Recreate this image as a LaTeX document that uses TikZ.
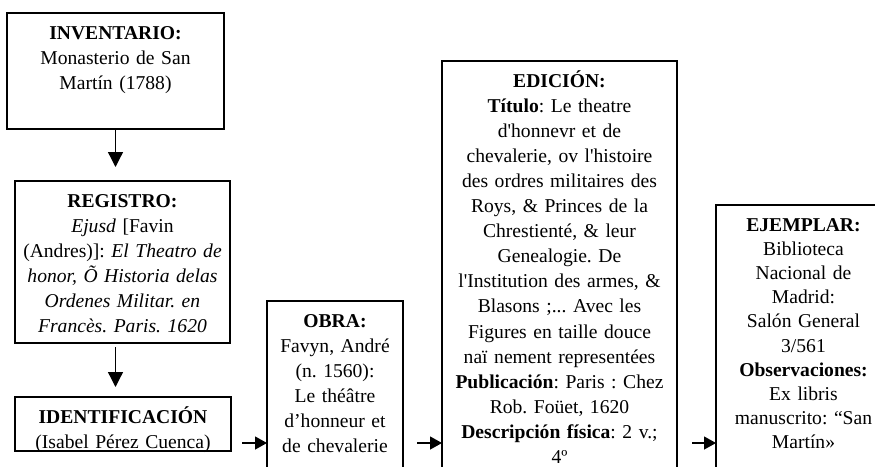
\documentclass[tikz,border=0pt]{standalone}
\usepackage{fontspec}
\setmainfont{Liberation Serif}[Ligatures=TeXOff]
\usetikzlibrary{arrows.meta}
\frenchspacing
\begin{document}
\begin{tikzpicture}[x=1pt,y=-1pt,
  box/.style={draw, line width=1.4pt, rectangle, anchor=north west,
    inner sep=0pt, outer sep=0pt},
  boxtext/.style={anchor=base, align=center, text width=300pt, inner sep=0pt,
    font=\fontsize{19.6}{25.1}\selectfont},
  varr/.style={line width=1.3pt, -{Triangle[length=15pt,width=15pt]}},
  harr/.style={line width=1.3pt, -{Triangle[length=12pt,width=13pt]}}
]
\useasboundingbox (0,0) rectangle (875,466);
\clip (0,0) rectangle (875,466);

% boxes
\node[box, line width=2pt, minimum width=217pt, minimum height=116pt] (inv) at (7,13) {};
\node[box, minimum width=215pt, minimum height=162pt] (reg) at (15,181) {};
\node[box, minimum width=216pt, minimum height=54pt] (ident) at (15,397) {};
\node[box, minimum width=136pt, minimum height=190pt] (obra) at (267,301) {};
\node[box, minimum width=235pt, minimum height=430pt] (edic) at (442,61) {};
\node[box, minimum width=175pt, minimum height=290pt] (ejem) at (716,205) {};

% texts
\node[boxtext] (invt) at ([yshift=-26pt]inv.north)
  {\textbf{INVENTARIO:}\\Monasterio de San\\Martín (1788)};
\node[boxtext] (regt) at ([yshift=-26pt]reg.north)
  {\textbf{REGISTRO:}\\\textit{Ejusd} [Favin\\(Andres)]: \textit{El Theatro de}\\
   \textit{honor, Õ Historia delas}\\\textit{Ordenes Militar. en}\\
   \textit{Francès. Paris. 1620}};
\node[boxtext] (identt) at ([yshift=-26pt]ident.north)
  {\textbf{IDENTIFICACIÓN}\\(Isabel Pérez Cuenca)};
\node[boxtext] (obrat) at ([yshift=-26pt]obra.north)
  {\textbf{OBRA:}\\Favyn, André\\(n. 1560):\\Le théâtre\\d’honneur et\\de chevalerie};
\node[boxtext] (edict) at ([yshift=-26pt]edic.north)
  {\textbf{EDICIÓN:}\\\textbf{Título}: Le theatre\\d'honnevr et de\\
   chevalerie, ov l'histoire\\des ordres militaires des\\Roys, \& Princes de la\\
   Chrestienté, \& leur\\Genealogie. De\\l'Institution des armes, \&\\
   Blasons ;... Avec les\\Figures en taille douce\\naï nement representées\\
   \textbf{Publicación}: Paris : Chez\\Rob. Foüet, 1620\\
   \textbf{Descripción física}: 2 v.;\\4º};
\node[boxtext, font=\fontsize{19.6}{24.2}\selectfont] (ejemt) at ([yshift=-26pt]ejem.north)
  {\textbf{EJEMPLAR:}\\Biblioteca\\Nacional de\\Madrid:\\Salón General\\3/561\\
   \textbf{Observaciones:}\\Ex libris\\manuscrito: “San\\Martín»};

% connectors
\coordinate (row) at (0,443);
\draw[varr, shorten >=14pt] (inv.south) -- (reg.north -| inv.south);
\draw[varr, shorten <=4pt, shorten >=10pt] (reg.south -| inv.south) -- (ident.north -| inv.south);
\draw[harr, shorten <=11pt] (ident.east |- row) -- (obra.west |- row);
\draw[harr, shorten <=14pt] (obra.east |- row) -- (edic.west |- row);
\draw[harr, shorten <=15pt] (edic.east |- row) -- (ejem.west |- row);
\end{tikzpicture}
\end{document}
